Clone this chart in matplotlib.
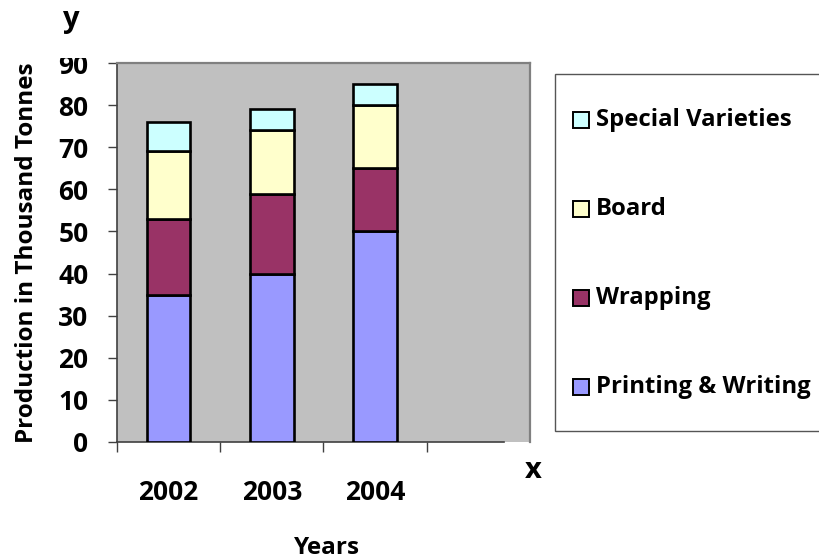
import matplotlib
matplotlib.use("Agg")
import matplotlib.pyplot as plt
from matplotlib.patches import Rectangle
import numpy as np

# Paper production by variety (thousand tonnes)
years = ["2002", "2003", "2004"]
series_names = ["Printing & Writing", "Wrapping", "Board", "Special Varieties"]
printing_writing = [35, 40, 50]
wrapping = [18, 19, 15]
board = [16, 15, 15]
special_varieties = [7, 5, 5]
y_ticks = [0, 10, 20, 30, 40, 50, 60, 70, 80, 90]

colors = ["#9999FF", "#993366", "#FFFFCC", "#CCFFFF"]
series = [printing_writing, wrapping, board, special_varieties]

W, H = 819, 559
FONT = "Open Sans"
plt.rcParams["font.family"] = [FONT, "DejaVu Sans"]
plt.rcParams["font.weight"] = "bold"

fig = plt.figure(figsize=(W / 100, H / 100), dpi=100)


def fx(px):
    return px / W


def fy(py):
    return 1 - py / H


# plot area
ax_left, ax_right, ax_top, ax_bottom = 117, 530, 63, 442
ax = fig.add_axes([fx(ax_left), fy(ax_bottom), fx(ax_right - ax_left),
                   (ax_bottom - ax_top) / H])
ax.set_facecolor("#C0C0C0")

n_slots = 4
x = np.arange(len(years))
bottom = np.zeros(len(years))
for vals, col, name in zip(series, colors, series_names):
    ax.bar(x, vals, width=0.42, bottom=bottom, color=col, edgecolor="black",
           linewidth=1.9, label=name, zorder=3)
    bottom += np.array(vals)

ax.set_xlim(-0.5, n_slots - 0.5)
ax.set_ylim(0, 90)
ax.set_yticks(y_ticks)
ax.set_yticklabels([str(v) for v in y_ticks], fontsize=19, fontweight="bold")
ax.tick_params(axis="y", length=6.5, width=1, color="#404040", pad=14)

# year labels at slot centres, tick marks at slot boundaries
ax.set_xticks(x)
ax.set_xticklabels(years, fontsize=19, fontweight="bold")
ax.set_xticks(np.arange(n_slots) - 0.5, minor=True)
ax.tick_params(axis="x", which="major", length=0, pad=27)
ax.tick_params(axis="x", which="minor", length=7.5, width=1, color="#404040")

for side in ("top", "right"):
    ax.spines[side].set_color("#808080")
    ax.spines[side].set_linewidth(1.6)
ax.spines["left"].set_color("#404040")
ax.spines["left"].set_linewidth(1.2)
ax.spines["bottom"].set_color("#404040")
ax.spines["bottom"].set_linewidth(1.2)
ax.spines["bottom"].set_bounds(-0.5, 3.25)

ax.set_ylabel("Production in Thousand Tonnes", fontsize=17.5,
              fontweight="bold")
ax.yaxis.set_label_coords((39 - ax_left) / (ax_right - ax_left), 0.5)

# top edge of the image trims the highest tick label and the axis title
fig.patches.append(Rectangle((0, fy(58)), fx(114), 58 / H,
                             transform=fig.transFigure, facecolor="white",
                             edgecolor="none", zorder=5))

fig.text(fx(71), fy(19), "y", fontsize=21, fontweight="bold", ha="center",
         va="center", zorder=6)
fig.text(fx(533), fy(470), "x", fontsize=21, fontweight="bold", ha="center",
         va="center", zorder=6)
fig.text(fx(327), fy(548), "Years", fontsize=17.5, fontweight="bold",
         ha="center", va="center")

# legend box, entries listed top to bottom in reverse stacking order
fig.patches.append(Rectangle((fx(555), fy(431)), fx(300), (431 - 74) / H,
                             transform=fig.transFigure, facecolor="white",
                             edgecolor="#555555", linewidth=1.0, zorder=2))
row_y = [387, 298, 209, 120]
for name, col, ry in zip(series_names, colors, row_y):
    fig.patches.append(Rectangle((fx(573), fy(ry + 8)), fx(16), 16 / H,
                                 transform=fig.transFigure, facecolor=col,
                                 edgecolor="black", linewidth=1.4, zorder=3))
    fig.text(fx(596), fy(ry), name, fontsize=17.2, fontweight="bold",
             ha="left", va="center", zorder=4)

fig.savefig("out.png", dpi=100)
